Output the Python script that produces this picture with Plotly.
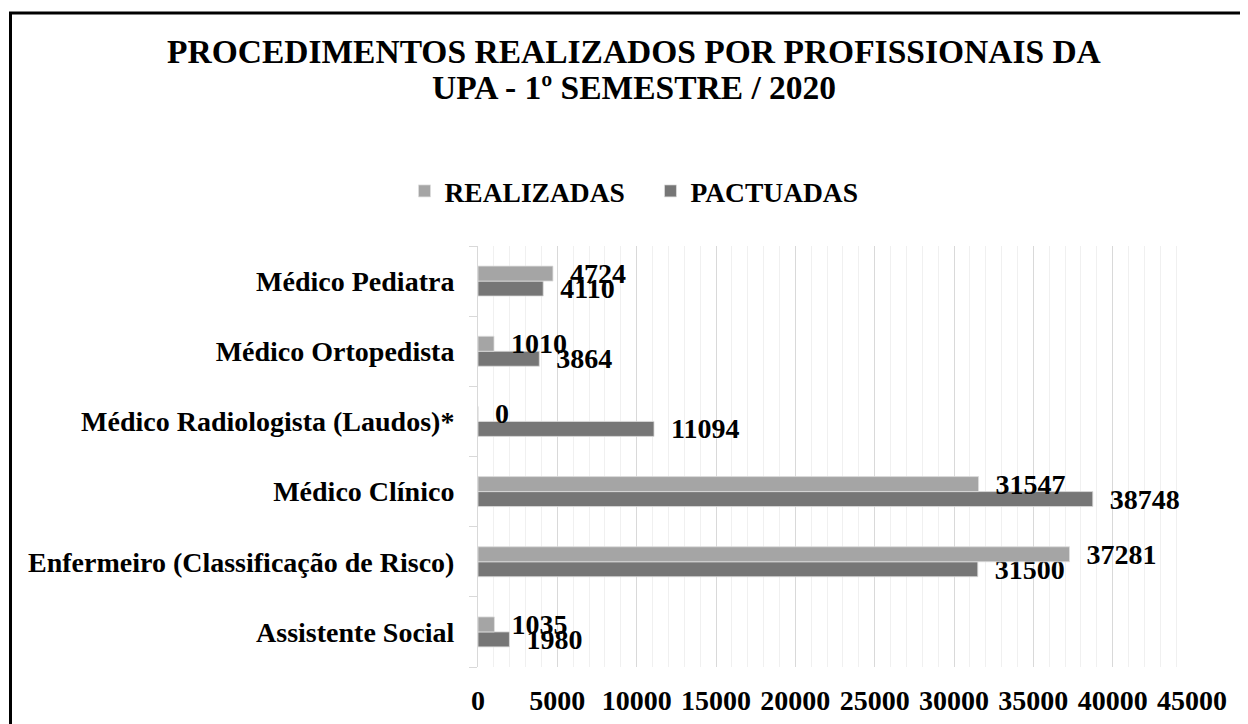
import plotly.graph_objects as go

categories = ["Assistente Social", "Enfermeiro (Classificação de Risco)", "Médico Clínico",
              "Médico Radiologista (Laudos)*", "Médico Ortopedista", "Médico Pediatra"]
realizadas = [1035, 37281, 31547, 0, 1010, 4724]
pactuadas = [1980, 31500, 38748, 11094, 3864, 4110]
x_ticks = [0, 5000, 10000, 15000, 20000, 25000, 30000, 35000, 40000, 45000]

# page has an 8px body margin: place everything 8px up/left
OFF = 8
W, H = 1248, 724
L, T = 478 - OFF, 246 - OFF
R = W - (1192 - OFF)
B = H - (667 - OFF)
pw, ph = W - L - R, H - T - B

def px(x):
    return (x - OFF - L) / pw

def py(y):
    return 1 + (T - (y - OFF)) / ph

FONT = "Liberation Serif"
lab_font = dict(family=FONT, size=28, color="black")

fig = go.Figure()
fig.add_trace(go.Bar(
    y=categories, x=pactuadas, name="<b>PACTUADAS</b>", orientation="h",
    marker=dict(color="#767676", line=dict(color="#DDDDDD", width=0.8)),
    text=[str(v) for v in pactuadas], texttemplate="<b>\u00a0\u00a0%{text}</b>", textposition="outside",
    textfont=lab_font, constraintext="none", cliponaxis=False,
))
fig.add_trace(go.Bar(
    y=categories, x=realizadas, name="<b>REALIZADAS</b>\u00a0\u00a0\u00a0", orientation="h",
    marker=dict(color="#A5A5A5", line=dict(color="#DDDDDD", width=0.8)),
    text=[str(v) for v in realizadas], texttemplate="<b>\u00a0\u00a0%{text}</b>", textposition="outside",
    textfont=lab_font, constraintext="none", cliponaxis=False,
))

fig.update_layout(
    width=W, height=H,
    margin=dict(l=L, r=R, t=T, b=B),
    paper_bgcolor="white", plot_bgcolor="white",
    barmode="group", bargap=0.573, bargroupgap=0,
    font=dict(family=FONT, color="black"),
    showlegend=True,
    legend=dict(orientation="h", traceorder="reversed",
                x=px(634), xanchor="center", y=py(191), yanchor="middle",
                font=dict(family=FONT, size=27.5, color="black"),
                itemclick=False, itemdoubleclick=False),
    xaxis=dict(range=[0, 45000], tickvals=x_ticks, ticktext=[f"<b>{v}</b>" for v in x_ticks],
               tickfont=dict(family=FONT, size=28, color="black"),
               showgrid=True, gridcolor="#D9D9D9", gridwidth=1,
               minor=dict(dtick=1000, showgrid=True, gridcolor="#F0F0F0", gridwidth=1),
               zeroline=False, showline=False, ticks="", ticklabelstandoff=14),
    yaxis=dict(categoryorder="array", categoryarray=categories,
               tickvals=categories, ticktext=[f"<b>{c}</b>" for c in categories],
               tickfont=dict(family=FONT, size=28, color="black"),
               showline=True, linecolor="#D9D9D9", linewidth=1,
               ticks="outside", tickson="boundaries", ticklen=8, tickcolor="#D9D9D9",
               showgrid=False, zeroline=False, ticklabelstandoff=17),
)

fig.add_annotation(text="<b>PROCEDIMENTOS REALIZADOS POR PROFISSIONAIS DA</b>",
                   xref="paper", yref="paper", x=px(634), y=py(51), xanchor="center", yanchor="middle",
                   showarrow=False, font=dict(family=FONT, size=33.5, color="black"))
fig.add_annotation(text="<b>UPA - 1º SEMESTRE / 2020</b>",
                   xref="paper", yref="paper", x=px(634), y=py(87), xanchor="center", yanchor="middle",
                   showarrow=False, font=dict(family=FONT, size=33.5, color="black"))

fig.add_shape(type="rect", xref="paper", yref="paper",
              x0=px(10.5), y0=py(13), x1=px(W + 30), y1=py(H + 30),
              line=dict(color="black", width=3), fillcolor="rgba(0,0,0,0)", layer="above")

fig.write_html("out.html")
